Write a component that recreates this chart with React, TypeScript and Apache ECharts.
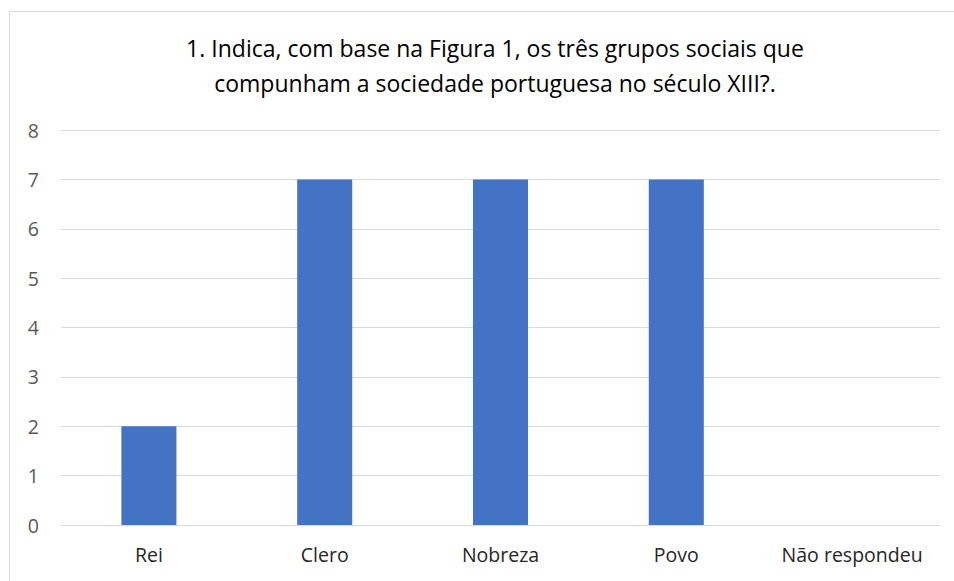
import React, { useEffect, useRef } from "react";
import * as echarts from "echarts";

const titleLines = [
  "1. Indica, com base na Figura 1, os três grupos sociais que",
  "compunham a sociedade portuguesa no século XIII?.",
];
const categories = ["Rei", "Clero", "Nobreza", "Povo", "Não respondeu"];
const values = [2, 7, 7, 7, 0];
const yMin = 0;
const yMax = 8;
const yInterval = 1;

const FONT = "'Open Sans', 'Noto Sans', sans-serif";

export default function App() {
  const ref = useRef<HTMLDivElement>(null);
  useEffect(() => {
    if (!ref.current) return;
    const chart = echarts.init(ref.current, null, { renderer: "svg" });
    chart.setOption({
      animation: false,
      backgroundColor: "#ffffff",
      graphic: [
        {
          type: "rect",
          shape: { x: 9.5, y: 11.5, width: 1000, height: 600 },
          style: { fill: "none", stroke: "#d9d9d9", lineWidth: 1 },
          silent: true,
          z: -1,
        },
      ],
      title: {
        text: titleLines.join("\n"),
        left: 490,
        top: 25,
        textAlign: "center",
        textStyle: {
          fontFamily: FONT,
          fontSize: 23,
          fontWeight: "normal",
          color: "#000000",
          lineHeight: 35,
        },
      },
      grid: { left: 61, right: 14, top: 130, bottom: 56, containLabel: false },
      xAxis: {
        type: "category",
        data: categories,
        axisLine: { show: true, lineStyle: { color: "#d9d9d9", width: 1 } },
        axisTick: { show: false },
        axisLabel: {
          fontFamily: FONT,
          fontSize: 19.5,
          color: "#262626",
          margin: 19,
          interval: 0,
        },
      },
      yAxis: {
        type: "value",
        min: yMin,
        max: yMax,
        interval: yInterval,
        axisLine: { show: false },
        axisTick: { show: false },
        splitLine: { lineStyle: { color: "#d9d9d9", width: 1 } },
        axisLabel: {
          fontFamily: FONT,
          fontSize: 19.5,
          color: "#595959",
          margin: 22,
        },
      },
      series: [
        {
          type: "bar",
          data: values,
          barWidth: "31.3%",
          itemStyle: { color: "#4472C4" },
        },
      ],
    });
    return () => chart.dispose();
  }, []);
  return (
    <div
      ref={ref}
      style={{ position: "fixed", left: 0, top: 0, width: 954, height: 581 }}
    />
  );
}
